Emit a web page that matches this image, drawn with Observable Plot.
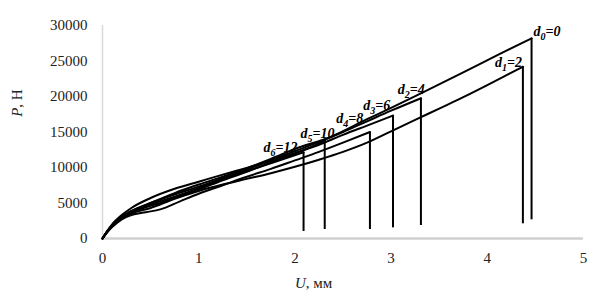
<!DOCTYPE html>
<html><head><meta charset="utf-8">
<script src="https://cdn.jsdelivr.net/npm/d3@7"></script>
<script src="https://cdn.jsdelivr.net/npm/@observablehq/plot@0.6"></script>
<style>body{margin:0;background:#fff} svg{display:block;background:#fff} svg text{font-family:"Liberation Serif","DejaVu Serif",serif !important}</style>
</head><body><div id="chart"></div>
<script>
// tick labels
const xTicks = [0, 1, 2, 3, 4, 5];
const yTicks = [0, 5000, 10000, 15000, 20000, 25000, 30000];

// series: U (mm) and P (N)
const U_d0 = [0, 0.05, 0.1, 0.2, 0.3, 0.5, 0.75, 1.0, 1.25, 1.5, 1.75, 2.0, 2.37, 2.75, 3.0, 3.31, 3.75, 4.1, 4.46];
const P_d0 = [0, 1000, 1800, 3000, 3800, 5000, 6400, 7600, 8700, 9900, 11200, 12600, 14300, 16800, 18400, 20450, 23400, 25800, 28200];
const U_d1 = [0, 0.05, 0.1, 0.2, 0.3, 0.5, 0.75, 1.0, 1.25, 1.5, 1.75, 2.0, 2.25, 2.5, 2.75, 3.0, 3.25, 3.5, 3.75, 4.0, 4.2, 4.37];
const P_d1 = [0, 900, 1700, 2800, 3500, 4300, 5600, 6700, 7600, 8400, 9200, 10100, 11100, 12200, 13500, 15100, 16700, 18300, 19900, 21600, 23000, 24200];
const U_d2 = [0, 0.05, 0.1, 0.2, 0.3, 0.5, 0.75, 1.0, 1.25, 1.5, 1.75, 2.0, 2.25, 2.5, 2.75, 3.0, 3.31];
const P_d2 = [0, 1000, 1800, 3000, 3800, 4800, 5900, 7100, 8400, 9700, 11000, 12300, 13600, 15000, 16500, 18000, 19760];
const U_d3 = [0, 0.05, 0.1, 0.2, 0.3, 0.5, 0.75, 1.0, 1.25, 1.5, 1.75, 2.0, 2.25, 2.5, 2.75, 3.02];
const P_d3 = [0, 1000, 1800, 3000, 3700, 4600, 5700, 6900, 8200, 9400, 10700, 12000, 13200, 14600, 15900, 17320];
const U_d4 = [0, 0.05, 0.1, 0.2, 0.3, 0.45, 0.6, 0.8, 1.0, 1.25, 1.5, 1.75, 2.0, 2.25, 2.5, 2.78];
const P_d4 = [0, 900, 1600, 2700, 3300, 3700, 4100, 5200, 6300, 7500, 8700, 9800, 11000, 12200, 13500, 15000];
const U_d5 = [0, 0.05, 0.1, 0.2, 0.3, 0.5, 0.75, 1.0, 1.25, 1.5, 1.75, 2.0, 2.15, 2.31];
const P_d5 = [0, 1100, 2000, 3300, 4300, 5700, 7000, 8000, 9000, 9950, 10950, 12000, 12800, 13800];
const U_d6 = [0, 0.05, 0.1, 0.2, 0.3, 0.5, 0.75, 1.0, 1.25, 1.5, 1.75, 2.09];
const P_d6 = [0, 1000, 1800, 3100, 3900, 5000, 6200, 7300, 8500, 9500, 10600, 12150];

// series names, hole diameters, load after rupture (bottom of the drop)
const seriesIds = ["d0", "d1", "d2", "d3", "d4", "d5", "d6"];
const subs = ["0", "1", "2", "3", "4", "5", "6"];
const diam = ["0", "2", "4", "6", "8", "10", "12"];
const dropP = [2630, 2070, 1830, 1500, 1270, 1270, 990];
// label anchors (U, P)
const labelU = [4.62, 4.22, 3.21, 2.85, 2.57, 2.235, 1.85];
const labelP = [29150, 24790, 20990, 18730, 16900, 14790, 12820];

const Us = [U_d0, U_d1, U_d2, U_d3, U_d4, U_d5, U_d6];
const Ps = [P_d0, P_d1, P_d2, P_d3, P_d4, P_d5, P_d6];

const rows = seriesIds.flatMap((id, k) => Us[k].map((u, i) => ({id, u, p: Ps[k][i]})));
const ends = seriesIds.map((id, k) => ({id, u: Us[k][Us[k].length - 1], top: Ps[k][Ps[k].length - 1], bottom: dropP[k]}));
const labels = seriesIds.map((id, k) => ({id, u: labelU[k], p: labelP[k], text: "d" + subs[k] + "=" + diam[k], sub: subs[k], val: diam[k]}));

const FONT = "Liberation Serif";
const plot = Plot.plot({
  width: 592, height: 304,
  marginLeft: 102, marginRight: 9, marginTop: 25, marginBottom: 66,
  x: {domain: [0, 5]},
  y: {domain: [0, 30000]},
  style: {fontFamily: FONT, fontSize: "15px", color: "#222", background: "#fff"},
  marks: [
    Plot.ruleX([0], {stroke: "#d9d9d9", strokeWidth: 1.5}),
    Plot.ruleY([0], {stroke: "#d0d0d0", strokeWidth: 2.5}),
    Plot.axisX({ticks: xTicks, tickSize: 0, tickPadding: 14, label: null, fontFamily: FONT, tickFormat: d => String(d)}),
    Plot.axisY({ticks: yTicks, tickSize: 0, tickPadding: 15, label: null, fontFamily: FONT, tickFormat: d => String(d)}),
    Plot.line(rows, {x: "u", y: "p", z: "id", curve: "monotone-x", stroke: "black", strokeWidth: 2}),
    Plot.ruleX(ends, {x: "u", y1: "bottom", y2: "top", stroke: "black", strokeWidth: 2}),
    Plot.text(labels, {x: "u", y: "p", text: "text", fontFamily: FONT, fontStyle: "italic", fontWeight: "bold", fontSize: 14, fill: "black", textAnchor: "middle", lineAnchor: "middle"})
  ]
});
document.getElementById("chart").appendChild(plot);

// subscripts in the curve labels
const svg = d3.select(plot);
svg.selectAll("g[aria-label='text'] text").each(function(d, i) {
  const L = labels[i];
  const t = d3.select(this);
  t.text(null);
  t.append("tspan").text("d");
  t.append("tspan").attr("font-size", 10).attr("dy", 4).text(L.sub);
  t.append("tspan").attr("dy", -4).text("=" + L.val);
});

// axis titles
const sx = plot.scale("x"), sy = plot.scale("y");
const yt = svg.append("text")
  .attr("transform", `translate(22,${sy.apply(19000)}) rotate(-90)`)
  .attr("text-anchor", "middle")
  .attr("font-family", FONT).attr("font-size", 15).attr("fill", "#222");
yt.append("tspan").attr("font-style", "italic").text("P");
yt.append("tspan").text(", Н");
const xt = svg.append("text")
  .attr("x", sx.apply(2.2)).attr("y", 288)
  .attr("text-anchor", "middle")
  .attr("font-family", FONT).attr("font-size", 15).attr("fill", "#222");
xt.append("tspan").attr("font-style", "italic").text("U");
xt.append("tspan").text(", мм");
svg.selectAll("text").attr("font-family", FONT);
</script></body></html>
